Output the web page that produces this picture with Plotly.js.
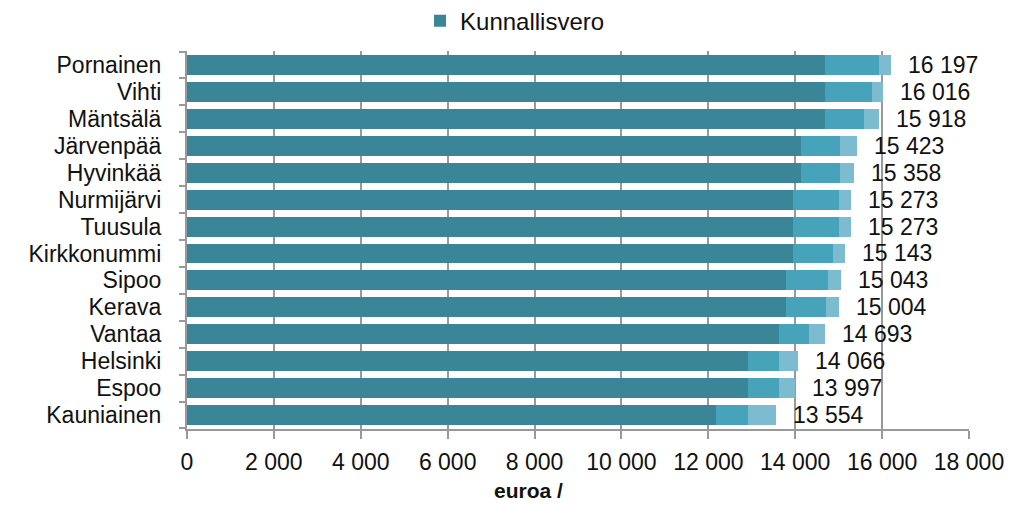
<!DOCTYPE html>
<html>
<head>
<meta charset="utf-8">
<script src="https://cdn.plot.ly/plotly-3.0.1.min.js"></script>
<style>html,body{margin:0;padding:0;background:#fff;}#chart{width:1012px;height:507px;}</style>
</head>
<body>
<div id="chart"></div>
<script>
const municipalities = ["Pornainen","Vihti","Mäntsälä","Järvenpää","Hyvinkää","Nurmijärvi","Tuusula","Kirkkonummi","Sipoo","Kerava","Vantaa","Helsinki","Espoo","Kauniainen"];
const kunnallisvero = [14694,14694,14694,14134,14134,13957,13957,13957,13796,13796,13619,12905,12905,12185];
const segment2 = [1243,1075,891,905,905,1059,1059,914,967,905,706,714,714,720];
const segment3 = [260,247,333,384,319,257,257,272,280,303,368,447,378,649];
const totals = [16197,16016,15918,15423,15358,15273,15273,15143,15043,15004,14693,14066,13997,13554];
const xTicks = [0,2000,4000,6000,8000,10000,12000,14000,16000,18000];

const FONT = "Liberation Sans, Arial, sans-serif";
function fmt(v){ return String(v).replace(/\B(?=(\d{3})+(?!\d))/g, " "); }

const traces = [
  {type:"bar", orientation:"h", name:"Kunnallisvero", y:municipalities, x:kunnallisvero,
   marker:{color:"#3a8598"}, showlegend:true},
  {type:"bar", orientation:"h", name:"s2", y:municipalities, x:segment2,
   marker:{color:"#47a3ba"}, showlegend:false},
  {type:"bar", orientation:"h", name:"s3", y:municipalities, x:segment3,
   marker:{color:"#7dbbd1"}, showlegend:false}
];

const annotations = totals.map((t,i)=>({
  x:t, y:municipalities[i], xref:"x", yref:"y", text:fmt(t), showarrow:false,
  xanchor:"left", yanchor:"middle", xshift:16, borderpad:0, font:{family:FONT, size:23, color:"#111"}
}));
annotations.push({xref:"paper", yref:"paper", x:0.4365, y:-0.162, xanchor:"center", yanchor:"middle",
  text:"<b>euroa /</b>", showarrow:false, font:{family:FONT, size:21, color:"#111"}});

const layout = {
  width:1012, height:507,
  margin:{l:187, r:43, t:51, b:78, pad:0, autoexpand:false},
  paper_bgcolor:"#fff", plot_bgcolor:"#fff",
  barmode:"stack", bargap:0.26,
  separators:", ",
  font:{family:FONT, size:23, color:"#111"},
  showlegend:true,
  legend:{orientation:"h", x:0.298, xanchor:"left", y:1.079, yanchor:"middle",
    font:{family:FONT, size:24, color:"#111"}, itemwidth:30, bgcolor:"rgba(0,0,0,0)"},
  xaxis:{range:[0,18000], tickvals:xTicks, ticktext:xTicks.map(fmt), showgrid:true, gridcolor:"#999", gridwidth:2,
    zeroline:false, showline:true, linecolor:"#999", linewidth:2, ticks:"outside", ticklen:8, tickwidth:2,
    tickcolor:"#999", tickfont:{family:FONT, size:23, color:"#111"}, ticklabelstandoff:3, fixedrange:true},
  yaxis:{autorange:"reversed", type:"category", tickmode:"array", tickvals:municipalities, ticktext:municipalities,
    showline:true, linecolor:"#999", linewidth:2,
    ticks:"outside", tickson:"boundaries", ticklen:6, tickwidth:2, tickcolor:"#999",
    showgrid:false, tickfont:{family:FONT, size:23, color:"#111"}, ticklabelstandoff:19, fixedrange:true},
  annotations:annotations
};

Plotly.newPlot("chart", traces, layout, {displayModeBar:false, staticPlot:true});
</script>
</body>
</html>
